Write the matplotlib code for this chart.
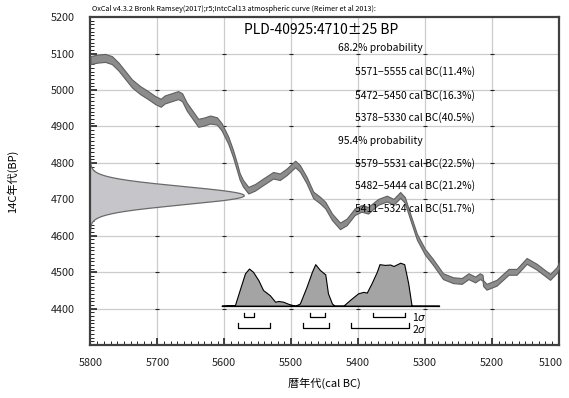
import numpy as np
import matplotlib
matplotlib.use("Agg")
import matplotlib.pyplot as plt
from matplotlib.ticker import MultipleLocator, FixedFormatter
from matplotlib.transforms import offset_copy

plt.rcParams['font.family'] = ['Noto Sans CJK JP', 'DejaVu Sans']

# measurement
lab_code = "PLD-40925"
c14_age = 4710
c14_err = 25

# IntCal13 curve (traced), cal BC / 14C BP / half width
curve_year = [5800, 5790, 5778, 5768, 5758, 5748, 5738, 5726, 5714, 5703,
              5695, 5689, 5679, 5669, 5663, 5656, 5649, 5639, 5631, 5621,
              5611, 5604, 5594, 5587, 5581, 5577, 5572, 5564, 5554, 5542,
              5527, 5517, 5507, 5494, 5487, 5477, 5467, 5457, 5449, 5439,
              5427, 5417, 5405, 5395, 5385, 5370, 5357, 5347, 5337, 5330,
              5322, 5312, 5300, 5288, 5273, 5258, 5245, 5235, 5225, 5218,
              5214, 5213, 5208, 5193, 5175, 5163, 5148, 5133, 5113, 5103, 5100]
curve_bp = [5082, 5086, 5088, 5082, 5064, 5041, 5018, 5000, 4986, 4972,
            4965, 4974, 4980, 4986, 4980, 4954, 4936, 4910, 4913, 4919,
            4915, 4899, 4862, 4826, 4789, 4763, 4744, 4725, 4733, 4748,
            4766, 4762, 4775, 4797, 4785, 4753, 4712, 4698, 4684, 4652,
            4627, 4638, 4666, 4675, 4670, 4693, 4702, 4693, 4712, 4698,
            4652, 4597, 4556, 4528, 4489, 4478, 4476, 4489, 4480, 4489,
            4485, 4470, 4460, 4471, 4501, 4501, 4531, 4515, 4487, 4506, 4518]
curve_sig = [11, 11, 11, 11, 11, 11, 11, 11, 11, 11,
             11, 11, 11, 11, 11, 11, 11, 11, 11, 11,
             10, 10, 10, 10, 10, 9, 9, 9, 9, 9,
             9, 9, 9, 9, 9, 9, 9, 9, 9, 9,
             9, 9, 9, 9, 9, 8, 8, 8, 8, 8,
             8, 8, 8, 8, 8, 8, 8, 8, 8, 8,
             8, 8, 8, 8, 8, 8, 8, 8, 8, 8, 8]

# calibrated probability (height above baseline, BP units)
cal_year = [5604, 5584, 5577, 5569, 5563, 5557, 5549, 5542, 5532, 5524,
            5519, 5512, 5504, 5494, 5487, 5477, 5469, 5464, 5457, 5449,
            5445, 5439, 5435, 5422, 5412, 5400, 5392, 5387, 5380, 5372,
            5368, 5360, 5352, 5347, 5337, 5331, 5325, 5320, 5279]
cal_prob = [0, 2, 43, 89, 102, 93, 70, 43, 29, 11,
            13, 11, 5, 0, 6, 52, 93, 114, 98, 86,
            34, 6, 0, 0, 16, 34, 38, 36, 61, 93,
            114, 112, 113, 109, 118, 114, 61, 0, 0]
cal_base = 4408

# ranges
sig1_ranges = [(5571, 5555), (5472, 5450), (5378, 5330)]
sig1_pct = [11.4, 16.3, 40.5]
sig2_ranges = [(5579, 5531), (5482, 5444), (5411, 5324)]
sig2_pct = [22.5, 21.2, 51.7]

x_ticks = [5100, 5200, 5300, 5400, 5500, 5600, 5700, 5800]
y_ticks = [4400, 4500, 4600, 4700, 4800, 4900, 5000, 5100, 5200]

fig = plt.figure(figsize=(5.69, 3.98), dpi=100)
ax = fig.add_axes([0.159, 0.133, 0.823, 0.824])
ax.set_xlim(5800, 5100)
ax.set_ylim(4300, 5200)

# grid
for gx in x_ticks[1:-1]:
    ax.axvline(gx, color='#cccccc', lw=0.9, zorder=0)
for gy in y_ticks[:-1]:
    ax.axhline(gy, color='#cccccc', lw=0.9, zorder=0)
gxx, gyy = np.meshgrid(x_ticks[1:-1], y_ticks[:-1])
ax.plot(gxx.ravel(), gyy.ravel(), ls='none', marker='_', ms=2.5, mew=0.8, color='#222222', zorder=1)

# calibration curve band
cy = np.array(curve_year)
cb = np.array(curve_bp)
cs = np.array(curve_sig)
ax.fill_between(cy, cb - cs, cb + cs, facecolor='#8c8c8c', edgecolor='#606060', lw=0.8, zorder=3)

# radiocarbon date on y axis
yy = np.linspace(c14_age - 4 * c14_err, c14_age + 4 * c14_err, 300)
gx_ext = 230 * np.exp(-0.5 * ((yy - c14_age) / c14_err) ** 2)
ax.fill_betweenx(yy, 5800, 5800 - gx_ext, facecolor='#c6c6ca', edgecolor='none', zorder=2)
ax.plot(5800 - gx_ext, yy, color='#6a6a6a', lw=0.9, zorder=2.5)

# calibrated distribution
ax.fill_between(cal_year, cal_base, cal_base + np.array(cal_prob),
                facecolor='#a4a4a4', edgecolor='black', lw=0.8, zorder=4)
ax.plot([cal_year[0], cal_year[-1]], [cal_base, cal_base], color='black', lw=0.9, zorder=4)

# range brackets
def bracket(r, y):
    ax.plot([r[0], r[0], r[1], r[1]], [y + 13, y, y, y + 13], color='black', lw=0.9, zorder=4)

for r in sig1_ranges:
    bracket(r, 4376)
for r in sig2_ranges:
    bracket(r, 4347)
ax.text(5320, 4378, "1$\\sigma$", fontsize=7.5, ha='left', va='center')
ax.text(5320, 4345, "2$\\sigma$", fontsize=7.5, ha='left', va='center')

# texts
ax.text(5455, 5164, f"{lab_code}:{c14_age}±{c14_err} BP", fontsize=10, ha='center', va='center')
ax.text(5303, 5114, "68.2% probability", fontsize=7.4, ha='right', va='center')
line_y = [5050, 4986, 4924]
for r, p, ly in zip(sig1_ranges, sig1_pct, line_y):
    ax.text(5225, ly, f"{r[0]}−{r[1]} cal BC({p}%)", fontsize=7.4, ha='right', va='center')
ax.text(5303, 4861, "95.4% probability", fontsize=7.4, ha='right', va='center')
line_y = [4799, 4737, 4675]
for r, p, ly in zip(sig2_ranges, sig2_pct, line_y):
    ax.text(5225, ly, f"{r[0]}−{r[1]} cal BC({p}%)", fontsize=7.4, ha='right', va='center')

fig.text(92 / 569, 1 - 9 / 398,
         "OxCal v4.3.2 Bronk Ramsey(2017);r5;IntcCal13 atmospheric curve (Reimer et al 2013):",
         fontsize=5.2, ha='left', va='center')

# axes style
ax.set_xticks(x_ticks)
# last label (5100) is drawn separately, nudged left so it stays on the canvas
ax.xaxis.set_major_formatter(FixedFormatter([''] + [str(v) for v in x_ticks[1:]]))
ax.set_yticks(y_ticks)
ax.xaxis.set_minor_locator(MultipleLocator(10))
ax.yaxis.set_minor_locator(MultipleLocator(10))
ax.tick_params(axis='both', which='major', direction='in', length=5, width=1.2,
               labelsize=7.8, colors='#222222')
ax.tick_params(axis='x', which='major', pad=9)
ax.tick_params(axis='y', which='major', pad=11)
ax.tick_params(axis='both', which='minor', direction='in', length=3, width=0.7, colors='#222222')
ax.tick_params(top=False, right=False, which='both')
for s in ax.spines.values():
    s.set_color('#404040')
    s.set_linewidth(1.6)
ax.set_xlabel("暦年代(cal BC)", fontsize=8, labelpad=7)
ax.set_ylabel("14C年代(BP)", fontsize=8, labelpad=24)

tr = offset_copy(ax.get_xaxis_transform(), fig=fig, x=-6, y=-9, units='points')
ax.text(x_ticks[0], 0, str(x_ticks[0]), transform=tr, ha='center', va='top',
        fontsize=7.8, color='#222222')

fig.savefig("out.png", dpi=100)
